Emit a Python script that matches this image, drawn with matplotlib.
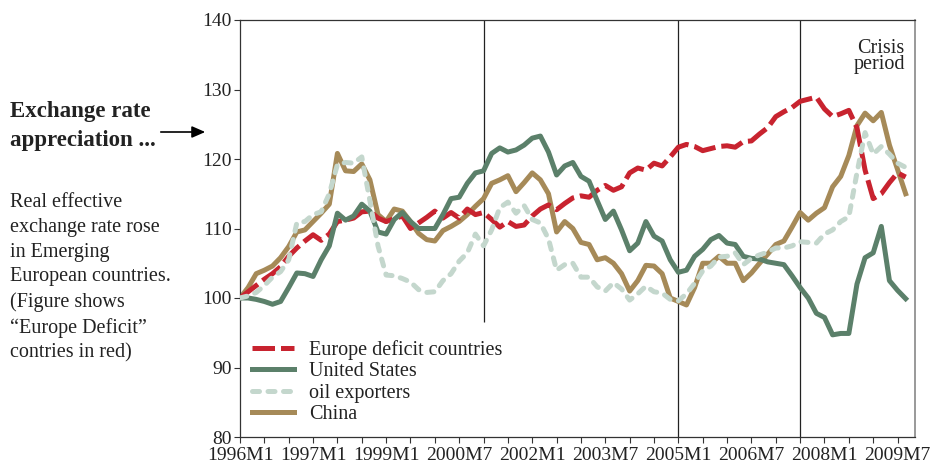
import matplotlib
matplotlib.use("Agg")
import matplotlib.pyplot as plt

plt.rcParams['font.family'] = ['Liberation Serif', 'DejaVu Serif']

# month index (0 = 1996M1), one reading every two months
months = list(range(0, 165, 2))

europe_deficit = [100, 100.9, 101.8, 102.7, 103.5, 104.5, 106, 107.2, 108.2, 109.1, 108.3,
                  109.2, 111, 111.2, 111.5, 112.4, 112.5, 111.5, 111, 111.4, 111.8,
                  110, 110.8, 111.6, 112.5, 111.5, 112.3, 111.5, 112.8, 112, 112.3,
                  111.3, 110.2, 111, 110.3, 110.5, 111.8, 112.8, 113.4, 112.7, 113.6,
                  114.4, 114.7, 114.5, 115.5, 116.2, 115.5, 116, 118, 118.7, 118.4,
                  119.4, 119, 120.3, 121.7, 122.1, 121.8, 121.2, 121.5, 121.8, 121.9,
                  121.7, 122.5, 122.6, 123.6, 124.5, 126.1, 126.8, 127.4, 128.3, 128.6,
                  128.9, 127.2, 126.1, 126.5, 127, 124.5, 118.4, 114.3, 115, 116.6,
                  118, 117.4]

united_states = [100, 100, 99.8, 99.5, 99.1, 99.5, 101.5, 103.6, 103.5, 103.1, 105.5,
                 107.5, 112.2, 111.2, 111.8, 113.5, 112.5, 109.5, 109.2, 111.3, 112.3,
                 111, 110, 110, 110, 112, 114.3, 114.5, 116.5, 118, 118.3,
                 120.8, 121.6, 121, 121.3, 122, 123, 123.3, 121, 117.7, 119,
                 119.5, 117.5, 116.8, 114, 111.3, 112.5, 109.8, 106.8, 107.9, 111,
                 108.9, 108.2, 105.5, 103.7, 104, 106, 107, 108.4, 109, 107.9,
                 107.7, 106, 105.7, 105.6, 105.2, 105, 104.8, 103.2, 101.5, 100,
                 97.8, 97.2, 94.7, 94.9, 94.9, 102, 105.8, 106.5, 110.3, 102.5,
                 101.1, 99.9]

oil_exporters = [100, 100.3, 100.8, 101.8, 103, 103.8, 105.5, 110.8, 111, 112, 112.4,
                 115, 119.2, 119.5, 119.4, 120.3, 114, 107.5, 103.3, 103.2, 102.8,
                 102.3, 101.2, 100.8, 100.9, 102.5, 103.5, 105.3, 106.5, 109.2, 107.5,
                 109.8, 113, 113.8, 112.2, 113.3, 111.3, 110.8, 108.5, 104, 104.8,
                 105, 103, 103, 101.6, 101, 102.2, 101.3, 99.7, 100.6, 101.7,
                 100.9, 100.7, 99.8, 99.6, 100.6, 102.1, 103.9, 104.6, 105.9, 106,
                 106.5, 104.8, 105.7, 106.2, 106.6, 107.2, 107.2, 107.5, 108.1, 108,
                 107.9, 109.2, 109.8, 111, 111.7, 118, 123.8, 120.7, 121.8, 120.7,
                 119.4, 118.8]

china = [100, 101.5, 103.5, 104, 104.6, 105.8, 107.4, 109.5, 109.8, 111, 112.2,
         113.5, 120.8, 118.3, 118.2, 119.3, 117, 112, 111, 112.8, 112.5,
         111, 109.3, 108.4, 108.2, 109.7, 110.3, 111, 112, 113.2, 114.3,
         116.5, 117, 117.6, 115.3, 116.6, 118, 117, 115, 109.5, 111,
         110, 108, 107.7, 105.5, 105.8, 105, 103.5, 101, 102.5, 104.7,
         104.6, 103.5, 100, 99.5, 99, 101.5, 105, 105, 106, 105,
         105, 102.5, 103.6, 105, 106.3, 107.7, 108.2, 110.2, 112.3, 111.2,
         112.2, 113, 116, 117.5, 120.5, 124.8, 126.6, 125.5, 126.7, 122,
         118.5, 115]

tick_pos = list(range(0, 163, 6))
label_pos = [0, 18, 36, 54, 72, 90, 108, 126, 144, 162]
tick_labels = ['1996M1', '1997M1', '1999M1', '2000M7', '2002M1',
               '2003M7', '2005M1', '2006M7', '2008M1', '2009M7']

fig = plt.figure(figsize=(9.37, 4.67), dpi=100)
ax = fig.add_axes([240/937, 30/467, 675/937, 417/467])

lw = 3.6
ax.plot(months, china, color='#A68A58', lw=lw, label='China', zorder=2,
        solid_joinstyle='round')
ax.plot(months, europe_deficit, color='#C8232F', lw=lw, label='Europe deficit countries',
        dashes=(4.5, 1.2), zorder=3)
ax.plot(months, united_states, color='#5B806A', lw=lw, label='United States', zorder=4,
        solid_joinstyle='round')
ax.plot(months, oil_exporters, color='#C4D7CD', lw=lw, label='oil exporters', zorder=5,
        dashes=(1.4, 1.7), dash_capstyle='round')

# event lines
ax.vlines(60, 96.5, 140, color='#222222', lw=0.9, zorder=1)
ax.vlines([108, 138], 80, 140, color='#222222', lw=0.9, zorder=1)

ax.set_xlim(0, 166.3)
ax.set_ylim(80, 140)
ax.set_yticks([80, 90, 100, 110, 120, 130, 140])
ax.set_xticks(tick_pos, minor=True)
ax.set_xticks(label_pos, tick_labels)
ax.tick_params(axis='both', which='both', direction='out', length=4, width=0.8,
               colors='#333333', labelsize=14, labelcolor='#222222')
ax.tick_params(axis='x', pad=3)
ax.tick_params(axis='y', pad=2)
for s in ['left', 'bottom', 'top']:
    ax.spines[s].set_color('#333333')
    ax.spines[s].set_linewidth(0.9)
ax.spines['right'].set_color('#888888')
ax.spines['right'].set_linewidth(1.2)

handles, labels = ax.get_legend_handles_labels()
order = [1, 2, 3, 0]
ax.legend([handles[i] for i in order], [labels[i] for i in order],
          loc='upper left', bbox_to_anchor=(0.0, 0.262), frameon=False,
          fontsize=14.5, handlelength=2.1, handletextpad=0.75, labelspacing=0.12,
          borderaxespad=0.2, labelcolor='#222222')

ax.text(0.985, 0.955, 'Crisis\nperiod', transform=ax.transAxes, ha='right', va='top',
        fontsize=14.5, linespacing=0.8, color='#222222')

fig.text(10/937, 1 - 126/467, 'Exchange rate\nappreciation ...', fontsize=16.5,
         fontweight='bold', va='center', ha='left', linespacing=1.55, color='#222222')
fig.text(10/937, 1 - 278/467, 'Real effective\nexchange rate rose\nin Emerging\n'
         'European countries.\n(Figure shows\n\u201cEurope Deficit\u201d\ncontries in red)',
         fontsize=14.5, va='center', ha='left', linespacing=1.4, color='#222222')
fig.patches.append(matplotlib.patches.FancyArrowPatch(
    (158/937, 1 - 132/467), (208/937, 1 - 132/467), transform=fig.transFigure,
    arrowstyle='-|>,head_length=8,head_width=3.5', color='black', lw=1.2))

fig.savefig('out.png', dpi=100)
